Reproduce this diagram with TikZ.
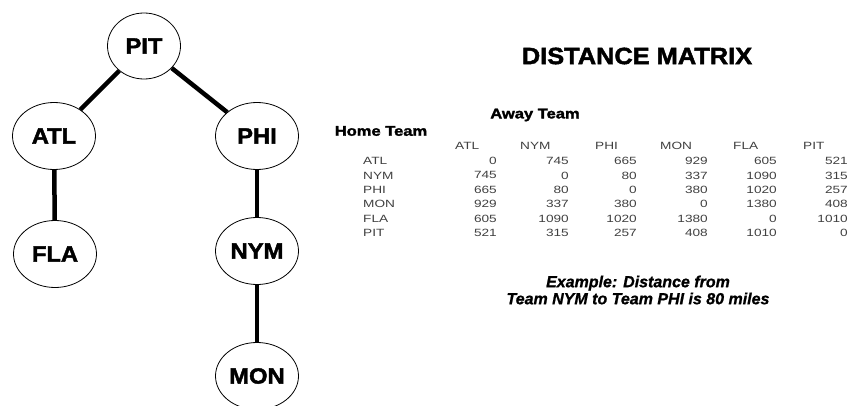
\documentclass[tikz,border=0pt]{standalone}
\usepackage{fontspec}
\setmainfont{Liberation Sans}
\newfontfamily\heavyfont[FakeBold=2,FakeStretch=1.08]{Liberation Sans}
\newfontfamily\headfont[FakeBold=2,FakeStretch=1.18]{Liberation Sans}
\newfontfamily\tablefont[FakeStretch=1.3]{Liberation Sans}
\newfontfamily\notefont[FakeBold=1]{Liberation Sans}
\usetikzlibrary{shapes.geometric}
\begin{document}
\begin{tikzpicture}[x=1pt,y=-1pt,
  team/.style={ellipse, draw, line width=0.8pt, fill=white, inner sep=0pt,
    minimum width=83pt, minimum height=67pt,
    font=\heavyfont\fontsize{22}{22}\selectfont\bfseries},
  link/.style={line width=4.5pt},
  title/.style={font=\heavyfont\fontsize{23.5}{24}\selectfont\bfseries, inner sep=0pt},
  head/.style={font=\headfont\fontsize{14}{14}\selectfont\bfseries, inner sep=0pt},
  colhead/.style={font=\tablefont\fontsize{10.5}{11}\selectfont, text=black!75, inner sep=0pt, anchor=west},
  rowhead/.style={font=\tablefont\fontsize{10.5}{11}\selectfont, text=black!75, inner sep=0pt, anchor=west},
  cell/.style={font=\tablefont\fontsize{10.5}{11}\selectfont, text=black!75, inner sep=0pt, anchor=east},
  note/.style={font=\notefont\fontsize{16}{17}\selectfont\bfseries\itshape, inner sep=0pt, align=center}]
\useasboundingbox (0,0) rectangle (850,406);

% schedule tree
\node[team, minimum width=73pt, minimum height=66pt] (PIT) at (144,46) {PIT};
\node[team] (ATL) at (54,136) {ATL};
\node[team] (PHI) at (257,136) {PHI};
\node[team] (FLA) at (55,254) {FLA};
\node[team] (NYM) at (257,251) {NYM};
\node[team] (MON) at (257,376) {MON};

\draw[link] (PIT) -- (ATL);
\draw[link] (PIT) -- (PHI);
\draw[link] (ATL) -- (FLA);
\draw[link] (PHI) -- (NYM);
\draw[link] (NYM) -- (MON);

% distance matrix
\node[title] (title) at (637,56) {DISTANCE MATRIX};
\node[head] (away) at (535,115) {Away Team};
\node[head] (home) at (381,131) {Home Team};

\foreach \t/\x [count=\j] in {ATL/455,NYM/520,PHI/595,MON/660,FLA/733,PIT/803}
  \node[colhead] (col\j) at (\x,146) {\t};

\foreach \lab/\vals [count=\i] in {
    ATL/{0,745,665,929,605,521},
    NYM/{745,0,80,337,1090,315},
    PHI/{665,80,0,380,1020,257},
    MON/{929,337,380,0,1380,408},
    FLA/{605,1090,1020,1380,0,1010},
    PIT/{521,315,257,408,1010,0}} {
  \pgfmathsetmacro\yy{146.6+14.4*\i}
  \node[rowhead] (row\i) at (363,\yy) {\lab};
  \foreach \v [count=\j] in \vals {
    \pgfmathsetmacro\xr{{497,569,637,708,777,848}[\j-1]}
    \node[cell] (d\i\j) at (\xr,\yy) {\v};
  }
}

\node[note] (example) at (638,290) {Example: Distance from\\Team NYM to Team PHI is 80 miles};
\end{tikzpicture}
\end{document}
